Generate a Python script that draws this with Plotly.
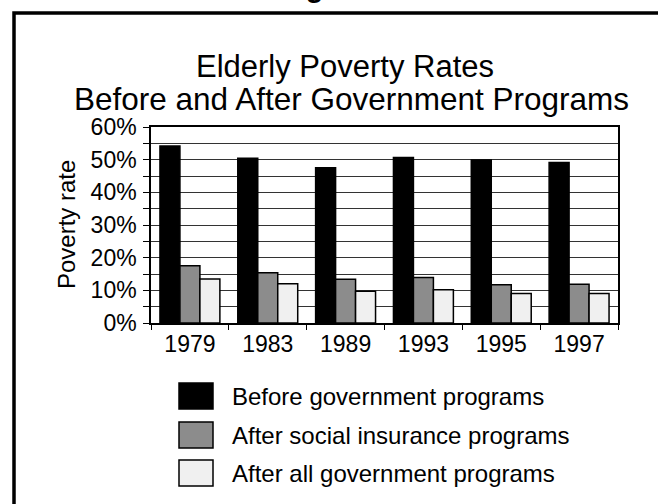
import plotly.graph_objects as go

# ---- data ----
years = ["1979", "1983", "1989", "1993", "1995", "1997"]
before_programs = [0.542, 0.504, 0.475, 0.507, 0.499, 0.491]
after_social_insurance = [0.175, 0.154, 0.134, 0.139, 0.117, 0.119]
after_all_programs = [0.135, 0.120, 0.097, 0.102, 0.090, 0.090]

series_names = [
    "Before government programs",
    "After social insurance programs",
    "After all government programs",
]
series_values = [before_programs, after_social_insurance, after_all_programs]
series_colors = ["#000000", "#8c8c8c", "#f0f0f0"]

y_tick_vals = [i * 0.05 for i in range(13)]
y_tick_text = [f"{round(v * 100)}%" if i % 2 == 0 else "" for i, v in enumerate(y_tick_vals)]

FONT = "Liberation Sans, Arial, sans-serif"

# ---- geometry (pixels) ----
W, H = 658, 504
L, R, T, B = 151, 40, 127, 181
PW, PH = W - L - R, H - T - B


def px(xp):
    return (xp - L) / PW


def py(yp):
    return 1 - (yp - T) / PH


fig = go.Figure()
for name, vals, col in zip(series_names, series_values, series_colors):
    fig.add_trace(go.Bar(
        x=years, y=vals, name=name,
        marker=dict(color=col, line=dict(color="#000000", width=1.5)),
        showlegend=False,
    ))

fig.update_layout(
    width=W, height=H,
    margin=dict(l=L, r=R, t=T, b=B),
    paper_bgcolor="white", plot_bgcolor="white",
    font=dict(family=FONT, color="#000000"),
    barmode="group", bargap=0.23, bargroupgap=0,
    xaxis=dict(
        type="category", categoryarray=years, range=[-0.5, 5.5],
        tickson="boundaries", ticks="outside", ticklen=5, tickwidth=1.2,
        tickcolor="#000000", showline=True, linecolor="#000000", linewidth=1.5,
        mirror=True, showgrid=False, tickfont=dict(size=23), fixedrange=True,
    ),
    xaxis2=dict(
        type="category", categoryarray=years, range=[-0.5, 5.5], overlaying="x",
        tickson="boundaries", ticks="inside", ticklen=5, tickwidth=1.2,
        tickcolor="#000000", showticklabels=False, showgrid=False, showline=False,
        matches="x",
    ),
    yaxis=dict(
        range=[0, 0.6], tickvals=y_tick_vals, ticktext=y_tick_text,
        ticks="outside", ticklen=6, tickwidth=1.2, tickcolor="#000000",
        showline=True, linecolor="#000000", linewidth=1.5, mirror=True,
        showgrid=True, gridcolor="#333333", gridwidth=1, zeroline=False,
        tickfont=dict(size=23), ticklabelstandoff=2,
    ),
    yaxis2=dict(
        range=[0, 0.6], overlaying="y", tickvals=y_tick_vals,
        ticks="inside", ticklen=6, tickwidth=1.2, tickcolor="#000000",
        showticklabels=False, showgrid=False, showline=False, zeroline=False,
    ),
)

annotations = [
    dict(text="<b>Figure 3</b>", x=px(336), y=py(5), xref="paper", yref="paper",
         xanchor="center", yanchor="bottom", showarrow=False,
         font=dict(size=29, family=FONT)),
    dict(text="Elderly Poverty Rates", x=px(345), y=py(67), xref="paper", yref="paper",
         xanchor="center", yanchor="middle", showarrow=False,
         font=dict(size=31, family=FONT)),
    dict(text="Before and After Government Programs", x=px(351), y=py(99),
         xref="paper", yref="paper", xanchor="center", yanchor="middle",
         showarrow=False, font=dict(size=31.5, family=FONT)),
    dict(text="Poverty rate", x=px(66), y=py(225), xref="paper", yref="paper",
         xanchor="center", yanchor="middle", textangle=-90, showarrow=False,
         font=dict(size=24, family=FONT)),
]

shapes = [
    # outer page frame
    dict(type="rect", xref="paper", yref="paper",
         xsizemode="pixel", ysizemode="pixel", xanchor=0, yanchor=1,
         x0=14 - L, x1=2000, y0=T - 13, y1=-2000,
         line=dict(color="#000000", width=3.5), fillcolor="rgba(0,0,0,0)", layer="above"),
]

# custom legend with large swatches
row_centers = [396, 435, 473]
for name, col, yc in zip(series_names, series_colors, row_centers):
    shapes.append(dict(type="rect", xref="paper", yref="paper",
                       x0=px(179), x1=px(213), y0=py(yc - 13), y1=py(yc + 13),
                       fillcolor=col, line=dict(color="#000000", width=1.5)))
    annotations.append(dict(text=name, x=px(230), y=py(yc), xref="paper", yref="paper",
                            xanchor="left", yanchor="middle", showarrow=False,
                            font=dict(size=24, family=FONT)))

fig.update_layout(annotations=annotations, shapes=shapes)

fig.write_html("out.html")
